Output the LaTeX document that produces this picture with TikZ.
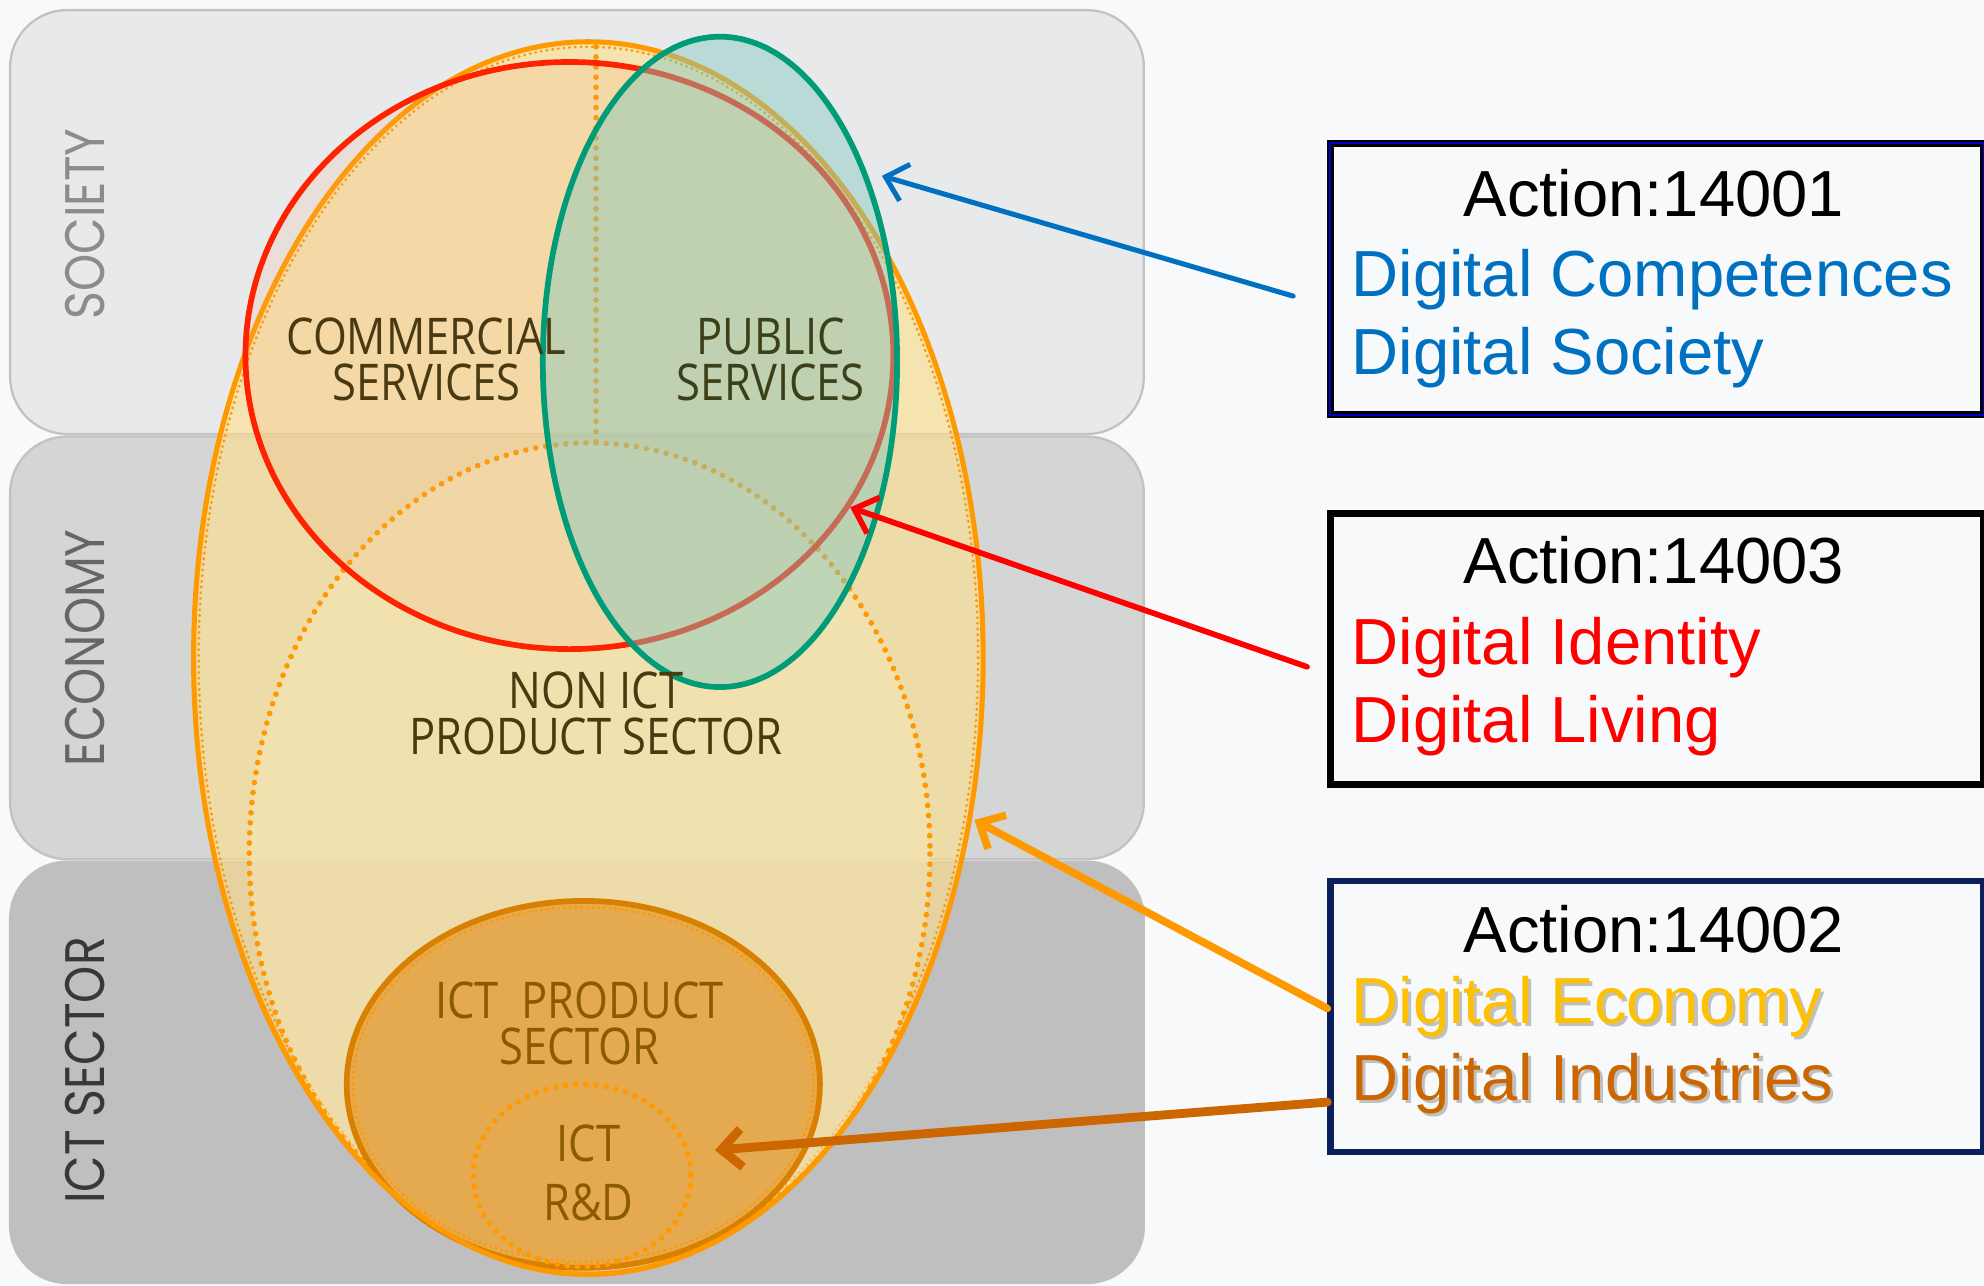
\documentclass[tikz,border=0pt]{standalone}
\usepackage{fontspec}
\setmainfont{Liberation Sans}
\newfontfamily\bandfont[FakeStretch=0.85]{Poppins}
\newfontfamily\condfont[FakeStretch=0.86]{Open Sans}
\usetikzlibrary{arrows.meta}
\definecolor{bgc}{HTML}{F7F9FB}
\definecolor{socc}{HTML}{E8E9EB}
\definecolor{ecoc}{HTML}{D4D5D5}
\definecolor{ictc}{HTML}{BFBFBF}
\definecolor{bandline}{HTML}{C2C2C2}
\definecolor{orangeL}{HTML}{FF9900}
\definecolor{yellowF}{HTML}{FFE08A}
\definecolor{yellowI}{HTML}{F8EAB8}
\definecolor{redL}{HTML}{FF2200}
\definecolor{redF}{HTML}{F0A070}
\definecolor{greenL}{HTML}{009B77}
\definecolor{greenF}{HTML}{80C8C0}
\definecolor{ictF}{HTML}{E5AA50}
\definecolor{ictL}{HTML}{D98000}
\definecolor{txtbrown}{HTML}{4A3A12}
\definecolor{txtolive}{HTML}{3C4018}
\definecolor{txtict}{HTML}{8C5A00}
\definecolor{blueT}{HTML}{0070C0}
\definecolor{yellowT}{HTML}{FFC000}
\definecolor{indT}{HTML}{CC6600}
\definecolor{navy}{HTML}{0A1F5C}
\definecolor{shadowc}{HTML}{C0C0C0}
\begin{document}
\begin{tikzpicture}[x=1pt,y=-1pt,
  band/.style={draw=bandline, line width=1.8pt, rounded corners=45pt},
  bandlabel/.style={font=\bandfont\fontsize{44}{50}\selectfont, rotate=90, anchor=center, inner sep=0pt},
  dotline/.style={dash pattern=on 0pt off 8pt, line cap=round, line width=4.5pt},
  fringe/.style={dash pattern=on 0pt off 4.5pt, line cap=round, line width=2.5pt},
  inlabel/.style={font=\condfont\fontsize{40}{36}\selectfont, align=center, anchor=center, inner sep=0pt},
  actbox/.style={rectangle, minimum width=516pt, minimum height=214pt, anchor=north west, inner sep=0pt},
  acttitle/.style={font=\fontsize{51.5}{62}\selectfont, anchor=base, inner sep=0pt},
  actline/.style={font=\fontsize{51.5}{62}\selectfont, anchor=base west, inner sep=0pt},
  arr/.style={-{Straight Barb[length=16pt,width=30pt]}, line cap=round}
]
\useasboundingbox (0,0) rectangle (1568,1016);
\fill[bgc] (0,0) rectangle (1568,1016);

% bands
\draw[band, fill=socc] (8,8) rectangle (904,343);
\draw[band, fill=ecoc] (8,345) rectangle (904,679);
\draw[band, fill=ictc, draw=ictc] (8,681) rectangle (904,1014);
\node[bandlabel, text=black!45] (lsoc) at (67,177) {SOCIETY};
\node[bandlabel, text=black!60] (leco) at (67,512) {ECONOMY};
\node[bandlabel, text=black!78] (lict) at (67,846) {ICT SECTOR};

% digital economy (outer)
\fill[yellowF, fill opacity=0.6] (465,520) ellipse [x radius=312, y radius=487];
\draw[orangeL, fringe] (465,520) ellipse [x radius=308, y radius=483];
\draw[orangeL, line width=4pt] (465,520) ellipse [x radius=312, y radius=487];

% non ICT dotted
\fill[yellowI, fill opacity=0.45] (466,675) ellipse [x radius=269, y radius=325];
\draw[orangeL, dotline] (466,675) ellipse [x radius=269, y radius=325];
\draw[orangeL, dotline] (471,37) -- (471,350);

% red circle
\fill[redF, fill opacity=0.15] (450,281) ellipse [x radius=256, y radius=232];
\draw[redL, line width=4.5pt] (450,281) ellipse [x radius=256, y radius=232];

% green ellipse
\fill[greenF, fill opacity=0.45] (569,286) ellipse [x radius=140, y radius=257];
\draw[greenL, line width=4.5pt] (569,286) ellipse [x radius=140, y radius=257];

% ICT product sector
\fill[ictF] (461,857) ellipse [x radius=187, y radius=145];
\draw[orangeL, fringe] (461,857) ellipse [x radius=182, y radius=140];
\draw[ictL, line width=4.5pt] (461,857) ellipse [x radius=187, y radius=145];
\begin{scope}
\clip (0,760) rectangle (904,1016);
\draw[orangeL, line width=4pt] (465,520) ellipse [x radius=312, y radius=487];
\end{scope}
\draw[orangeL, dotline] (460,929) ellipse [x radius=86, y radius=72];

% inner labels
\node[inlabel, text=txtbrown] (tcom) at (337,284) {COMMERCIAL\\SERVICES};
\node[inlabel, text=txtolive] (tpub) at (609,284) {PUBLIC\\SERVICES};
\node[inlabel, text=txtbrown] (tnon) at (471,564) {NON ICT\\PRODUCT SECTOR};
\node[inlabel, text=txtict] (tictp) at (458,809) {ICT\ \ PRODUCT\\SECTOR};
\node[inlabel, text=txtict, font=\condfont\fontsize{40}{47}\selectfont] (trd) at (465,927) {ICT\\R\&D};

% action boxes
\node[actbox, draw=black, line width=5pt] (box1) at (1049,111) {};
\draw[blue!80!black, line width=2pt] ([xshift=2pt,yshift=-2pt]box1.north west) rectangle ([xshift=-2pt,yshift=2pt]box1.south east);
\node[acttitle] (a1) at (1307,171) {Action:14001};
\node[actline, text=blueT] (a1l1) at (1068,234) {Digital Competences};
\node[actline, text=blueT] (a1l2) at (1068,296) {Digital Society};

\node[actbox, draw=black, line width=5.5pt] (box2) at (1049,403) {};
\node[acttitle] (a2) at (1307,461) {Action:14003};
\node[actline, text=red] (a2l1) at (1068,525) {Digital Identity};
\node[actline, text=red] (a2l2) at (1068,587) {Digital Living};

\node[actbox, draw=navy, line width=5pt] (box3) at (1049,694) {};
\node[acttitle] (a3) at (1307,753) {Action:14002};
\node[actline, text=shadowc] (a3s1) at (1070.5,811.5) {Digital Economy};
\node[actline, text=yellowT] (a3l1) at (1068,809) {Digital Economy};
\node[actline, text=shadowc] (a3s2) at (1070.5,872.5) {Digital Industries};
\node[actline, text=indT] (a3l2) at (1068,870) {Digital Industries};

% arrows
\coordinate (tailA) at (1022,234);
\coordinate (tipA) at (697,139);
\coordinate (tailB) at (1033,527);
\coordinate (tipB) at (672,401);
\coordinate (tipC) at (770,648);
\coordinate (tipD) at (565,909);
\draw[arr, blueT, line width=4pt] (tailA) -- (tipA);
\draw[arr, red, line width=4.5pt] (tailB) -- (tipB);
\draw[arr, orangeL, line width=6pt] (box3.west |- 0,797) -- (tipC);
\draw[arr, indT, line width=7pt] (box3.west |- 0,871) -- (tipD);
\end{tikzpicture}
\end{document}
